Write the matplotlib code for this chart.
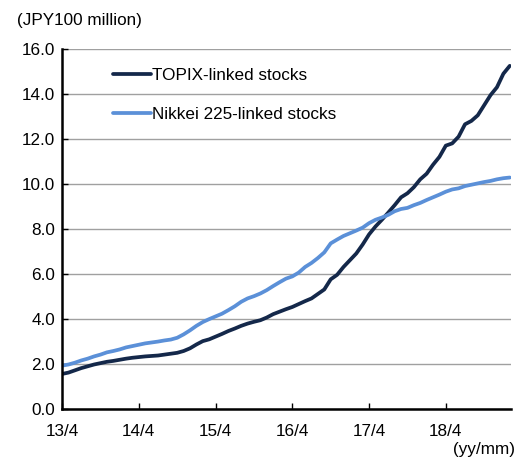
import matplotlib
matplotlib.use("Agg")
import matplotlib.pyplot as plt

plt.rcParams["font.family"] = ["Liberation Sans", "DejaVu Sans"]

# Monthly readings, Apr 2013 (index 0) to Feb 2019 (index 70), JPY 100 million
topix = [1.54, 1.60, 1.70, 1.80, 1.88, 1.96, 2.02, 2.08, 2.12, 2.17,
         2.22, 2.26, 2.29, 2.32, 2.34, 2.36, 2.40, 2.44, 2.48, 2.56,
         2.68, 2.85, 3.00, 3.08, 3.20, 3.32, 3.45, 3.56, 3.68, 3.78,
         3.86, 3.93, 4.05, 4.20, 4.31, 4.42, 4.52, 4.65, 4.78, 4.90,
         5.10, 5.30, 5.75, 5.95, 6.30, 6.60, 6.90, 7.30, 7.75, 8.10,
         8.40, 8.72, 9.05, 9.40, 9.58, 9.85, 10.20, 10.45, 10.85, 11.20,
         11.70, 11.80, 12.10, 12.65, 12.80, 13.05, 13.50, 13.95, 14.30, 14.90,
         15.25]
nikkei = [1.91, 1.96, 2.04, 2.14, 2.22, 2.32, 2.40, 2.50, 2.56, 2.63,
          2.72, 2.78, 2.84, 2.90, 2.94, 2.98, 3.03, 3.07, 3.15, 3.30,
          3.48, 3.68, 3.85, 3.98, 4.10, 4.22, 4.38, 4.55, 4.75, 4.90,
          5.00, 5.12, 5.27, 5.45, 5.62, 5.78, 5.88, 6.05, 6.30, 6.48,
          6.70, 6.95, 7.35, 7.52, 7.68, 7.80, 7.92, 8.05, 8.25, 8.40,
          8.50, 8.62, 8.78, 8.88, 8.93, 9.05, 9.15, 9.28, 9.40, 9.52,
          9.65, 9.75, 9.80, 9.90, 9.96, 10.02, 10.08, 10.13, 10.20, 10.25,
          10.28]
tick_pos = [0, 12, 24, 36, 48, 60]
tick_labels = ["13/4", "14/4", "15/4", "16/4", "17/4", "18/4"]
y_ticks = [0, 2, 4, 6, 8, 10, 12, 14, 16]

months = list(range(len(topix)))
fs = 12.3

fig = plt.figure(figsize=(5.22, 4.58), dpi=100)
ax = fig.add_axes([0.119, 0.108, 0.860, 0.785])

ax.plot(months, topix, color="#14284A", lw=2.7, label="TOPIX-linked stocks",
        solid_capstyle="round")
ax.plot(months, nikkei, color="#5B90D8", lw=2.7, label="Nikkei 225-linked stocks",
        solid_capstyle="round")

ax.set_xlim(0, 70.2)
ax.set_ylim(0, 16)
ax.set_yticks(y_ticks)
ax.set_yticklabels([f"{v:.1f}" for v in y_ticks])
ax.set_xticks(tick_pos)
ax.set_xticklabels(tick_labels)
ax.grid(axis="y", color="#A0A0A0", lw=1)
ax.set_axisbelow(True)

for s in ("top", "right"):
    ax.spines[s].set_visible(False)
for s in ("left", "bottom"):
    ax.spines[s].set_linewidth(1.8)
ax.tick_params(axis="both", direction="in", length=4, width=1, labelsize=fs,
               color="black")
ax.tick_params(axis="x", pad=11)
ax.tick_params(axis="y", pad=5)

ax.legend(loc="upper left", bbox_to_anchor=(0.1136, 0.948), frameon=False,
          fontsize=fs, handlelength=2.2, handletextpad=0.1, labelspacing=1.45,
          borderpad=0, borderaxespad=0)

fig.text(0.033, 0.955, "(JPY100 million)", fontsize=fs, va="center")
fig.text(0.987, 0.018, "(yy/mm)", fontsize=fs, ha="right", va="center")

fig.savefig("out.png", dpi=100)
